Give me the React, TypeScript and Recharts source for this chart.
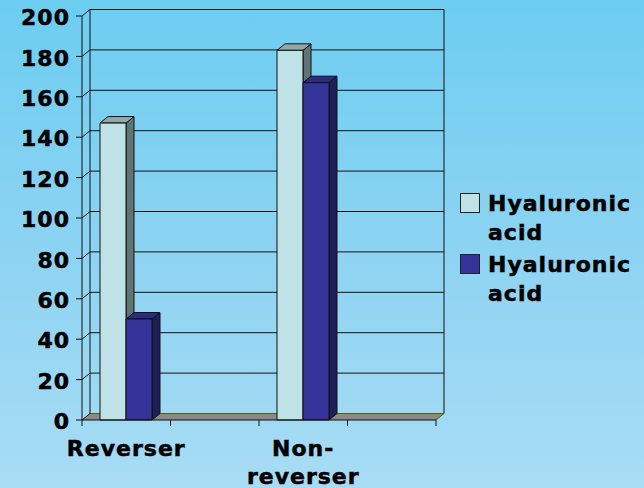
import React from "react";
import { BarChart, Bar, XAxis, YAxis, CartesianGrid, Legend } from "recharts";

const categories = ["Reverser", "", "Non-reverser", ""];
const reverserSeries = [147, null, 183, null];
const secondSeries = [50, null, 167, null];
const seriesNames = ["Hyaluronic acid", "Hyaluronic acid"];
const yTicks = [0, 20, 40, 60, 80, 100, 120, 140, 160, 180, 200];

const data = categories.map((cat, i) => ({
  cat,
  a: reverserSeries[i],
  b: secondSeries[i],
}));

// depth offset of the fake 3D look
const DX = 8;
const DY = -6.5;
const FONT = "'DejaVu Sans', Verdana, sans-serif";
const INK = "#111";

const LIGHT = { face: "#bfe2e6", side: "#5f7575", top: "#93a9a9" };
const DARK = { face: "#333399", side: "#1f1f57", top: "#2b2b80" };

const textStyle = {
  fontFamily: FONT,
  fontWeight: 700,
  fontSize: 22,
  letterSpacing: 1,
  fill: "#000",
  stroke: "#000",
  strokeWidth: 0.5,
};

function Box3D(props: any) {
  const { x, y, width, height, colors } = props;
  if (height == null || height <= 0 || width == null) return null;
  const r = x + width;
  const b = y + height;
  return (
    <g stroke={INK} strokeWidth={1} strokeLinejoin="round">
      <polygon
        points={`${r},${y} ${r + DX},${y + DY} ${r + DX},${b + DY} ${r},${b}`}
        fill={colors.side}
      />
      <polygon
        points={`${x},${y} ${x + DX},${y + DY} ${r + DX},${y + DY} ${r},${y}`}
        fill={colors.top}
      />
      <rect x={x} y={y} width={width} height={height} fill={colors.face} />
    </g>
  );
}

function gridLine(p: any) {
  const { x1, y1, x2, y, height, index } = p;
  const bottom = y + height;
  const isBottom = Math.abs(y1 - bottom) < 0.5;
  const isTop = Math.abs(y1 - y) < 0.5;
  return (
    <g key={`g-${index}`}>
      {isBottom && (
        <polygon
          points={`${x1},${y1} ${x2},${y1} ${x2 + DX},${y1 + DY} ${x1 + DX},${y1 + DY}`}
          fill="#8a8a8a"
          stroke="none"
        />
      )}
      <line
        x1={x1 + DX}
        y1={y1 + DY}
        x2={x2 + DX}
        y2={y1 + DY}
        stroke={isBottom ? "#5c5c00" : INK}
        strokeWidth={1}
      />
      <line x1={x1} y1={y1} x2={x1 + DX} y2={y1 + DY} stroke={INK} strokeWidth={1} />
      {isBottom && (
        <line x1={x2} y1={y1} x2={x2 + DX} y2={y1 + DY} stroke="#5c5c00" strokeWidth={1} />
      )}
      {isTop && (
        <>
          <line x1={x1 + DX} y1={y1 + DY} x2={x1 + DX} y2={bottom + DY} stroke={INK} strokeWidth={1} />
          <line x1={x2 + DX} y1={y1 + DY} x2={x2 + DX} y2={bottom + DY} stroke={INK} strokeWidth={1} />
        </>
      )}
    </g>
  );
}

function XTick(props: any) {
  const { x, y, payload, index, visibleTicksCount } = props;
  const half = payload?.offset ?? 44;
  const value = String(payload?.value ?? "");
  const lines = value ? value.replace("-", "-\n").split("\n") : [];
  const last = index === (visibleTicksCount ?? 4) - 1;
  return (
    <g>
      <line x1={x - half} y1={y - 6} x2={x - half} y2={y} stroke={INK} />
      {last && <line x1={x + half} y1={y - 6} x2={x + half} y2={y} stroke={INK} />}
      {lines.map((t, i) => (
        <text key={i} x={x} y={y + 30 + i * 28} textAnchor="middle" style={textStyle}>
          {t}
        </text>
      ))}
    </g>
  );
}

function YTick(props: any) {
  const { x, y, payload } = props;
  return (
    <text x={x} y={y} dy="0.42em" textAnchor="end" style={textStyle}>
      {payload.value}
    </text>
  );
}

function LegendBox(props: any) {
  const { payload } = props;
  return (
    <div
      style={{
        fontFamily: FONT,
        fontWeight: 700,
        fontSize: 22,
        letterSpacing: 1,
        color: "#000",
        WebkitTextStroke: "0.5px #000",
      }}
    >
      {(payload || []).map((item: any, i: number) => (
        <div key={i} style={{ display: "flex", alignItems: "flex-start", marginBottom: 3 }}>
          <div
            style={{
              width: 18,
              height: 18,
              marginTop: 4,
              marginRight: 8,
              background: item.color,
              border: "1px solid #222",
              flex: "none",
            }}
          />
          <div style={{ width: 150, lineHeight: "29px", textAlign: "left" }}>{item.value}</div>
        </div>
      ))}
    </div>
  );
}

export default function App() {
  return (
    <div
      style={{
        position: "fixed",
        left: 0,
        top: 0,
        width: 644,
        height: 488,
        background: "linear-gradient(180deg, #6ccdf1 0%, #8cd3f2 50%, #a8dcf4 100%)",
      }}
    >
      <BarChart
        width={644}
        height={488}
        data={data}
        margin={{ top: 16, right: 208, left: 0, bottom: 0 }}
        barGap={0}
        barCategoryGap={0}
      >
        <CartesianGrid horizontal={gridLine} vertical={false} stroke={INK} />
        <XAxis
          dataKey="cat"
          height={68}
          tickSize={6}
          tickMargin={0}
          tickLine={false}
          axisLine={{ stroke: INK }}
          tick={<XTick />}
          interval={0}
        />
        <YAxis
          width={82}
          domain={[0, 200]}
          ticks={yTicks}
          interval={0}
          tickSize={6}
          tickMargin={6}
          tickLine={{ stroke: INK }}
          axisLine={{ stroke: INK }}
          tick={<YTick />}
        />
        <Legend
          layout="vertical"
          align="center"
          verticalAlign="middle"
          wrapperStyle={{ left: 460, top: 189, width: 184 }}
          content={<LegendBox />}
        />
        <Bar
          dataKey="a"
          name={seriesNames[0]}
          fill={LIGHT.face}
          barSize={26}
          isAnimationActive={false}
          shape={(p: any) => <Box3D {...p} colors={LIGHT} />}
        />
        <Bar
          dataKey="b"
          name={seriesNames[1]}
          fill={DARK.face}
          barSize={26}
          isAnimationActive={false}
          shape={(p: any) => <Box3D {...p} colors={DARK} />}
        />
      </BarChart>
    </div>
  );
}
